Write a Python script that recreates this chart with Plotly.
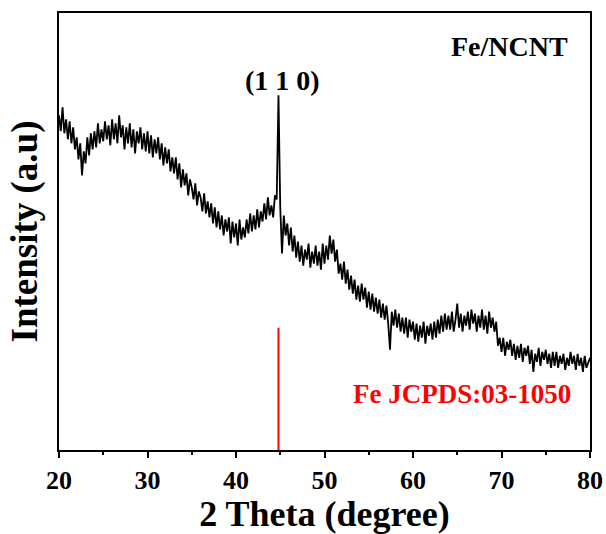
import numpy as np
import plotly.graph_objects as go

# XRD scan of Fe/NCNT: 2-theta from 20 to 80 degrees in 0.2 degree steps
two_theta = np.round(np.arange(20.0, 80.001, 0.2), 1)

# measured intensity (a.u.), five readings per degree
intensity = [
    334, 318, 342, 316, 330,  # 20
    310, 328, 306, 322, 300,  # 21
    312, 290, 306, 274, 298,  # 22
    286, 312, 294, 316, 300,  # 23
    318, 302, 326, 306, 320,  # 24
    308, 328, 310, 324, 304,  # 25
    330, 310, 326, 306, 334,  # 26
    312, 324, 300, 322, 306,  # 27
    326, 302, 320, 296, 318,  # 28
    306, 322, 300, 316, 298,  # 29
    318, 296, 314, 292, 310,  # 30
    296, 312, 290, 306, 284,  # 31
    302, 286, 300, 278, 292,  # 32
    276, 292, 270, 286, 262,  # 33
    280, 264, 276, 254, 270,  # 34
    262, 250, 266, 244, 258,  # 35
    252, 238, 256, 236, 248,  # 36
    232, 246, 226, 242, 222,  # 37
    238, 220, 234, 214, 230,  # 38
    218, 232, 206, 228, 212,  # 39
    226, 204, 230, 210, 222,  # 40
    212, 230, 216, 236, 218,  # 41
    234, 220, 240, 222, 238,  # 42
    228, 246, 230, 252, 234,  # 43
    244, 232, 254, 250, 354,  # 44
    242, 196, 234, 214, 226,  # 45
    204, 222, 198, 214, 192,  # 46
    208, 188, 204, 184, 200,  # 47
    190, 206, 182, 198, 186,  # 48
    204, 184, 198, 180, 206,  # 49
    186, 204, 190, 214, 196,  # 50
    210, 188, 200, 176, 186,  # 51
    170, 188, 166, 180, 160,  # 52
    174, 156, 170, 150, 164,  # 53
    148, 166, 150, 162, 142,  # 54
    158, 140, 156, 138, 152,  # 55
    136, 150, 132, 146, 130,  # 56
    144, 126, 100, 138, 124,  # 57
    140, 122, 136, 118, 132,  # 58
    116, 132, 112, 130, 118,  # 59
    128, 110, 126, 108, 124,  # 60
    112, 128, 106, 124, 114,  # 61
    126, 110, 128, 112, 130,  # 62
    116, 134, 118, 136, 120,  # 63
    134, 120, 138, 118, 130,  # 64
    146, 122, 136, 118, 134,  # 65
    124, 138, 120, 140, 126,  # 66
    136, 118, 134, 122, 140,  # 67
    120, 134, 116, 138, 122,  # 68
    132, 118, 128, 104, 112,  # 69
    98, 112, 94, 108, 100,    # 70
    110, 94, 106, 90, 104,    # 71
    92, 106, 88, 102, 94,     # 72
    104, 86, 100, 78, 96,     # 73
    88, 102, 84, 98, 90,      # 74
    100, 86, 96, 82, 98,      # 75
    84, 98, 82, 94, 86,       # 76
    96, 80, 92, 84, 98,       # 77
    86, 94, 80, 96, 84,       # 78
    92, 78, 94, 82, 88,       # 79
    92,                       # 80
]

# standard reference line for bcc Fe (110)
ref_position = [44.8, 44.8]
ref_height = [0, 122]

x_ticks = [20, 30, 40, 50, 60, 70, 80]
x_minor = [25, 35, 45, 55, 65, 75]

SERIF = "Liberation Serif"

fig = go.Figure()
fig.add_trace(go.Scatter(
    x=two_theta, y=intensity, mode="lines",
    line=dict(color="black", width=1.8), showlegend=False,
))
fig.add_trace(go.Scatter(
    x=ref_position, y=ref_height, mode="lines",
    line=dict(color="#ff0000", width=2), showlegend=False,
))

fig.add_annotation(x=0.849, y=0.924, xref="paper", yref="paper", text="<b>Fe/NCNT</b>",
                   showarrow=False, xanchor="center", yanchor="middle",
                   font=dict(family=SERIF, size=28, color="black"))
fig.add_annotation(x=45.3, y=369, text="<b>(1 1 0)</b>", showarrow=False,
                   xanchor="center", yanchor="middle",
                   font=dict(family=SERIF, size=28, color="black"))
fig.add_annotation(x=0.759, y=0.128, xref="paper", yref="paper",
                   text="<b>Fe JCPDS:03-1050</b>", showarrow=False,
                   xanchor="center", yanchor="middle",
                   font=dict(family=SERIF, size=27, color="#ff0000"))

fig.update_layout(
    width=606, height=534,
    margin=dict(l=59, r=16, t=13, b=84),
    paper_bgcolor="white", plot_bgcolor="white",
    font=dict(family=SERIF, color="black"),
)
fig.update_xaxes(
    range=[20, 80], tickvals=x_ticks, ticktext=[f"<b>{v}</b>" for v in x_ticks],
    ticks="outside", ticklen=6, tickwidth=2, tickcolor="black",
    minor=dict(tickvals=x_minor, ticks="outside", ticklen=3,
               tickwidth=2, tickcolor="black"),
    showline=True, linewidth=2, linecolor="black", mirror=True,
    showgrid=False, zeroline=False, automargin=False,
    tickfont=dict(family=SERIF, size=26, color="black"),
    title=dict(text="<b>2 Theta (degree)</b>", standoff=4,
               font=dict(family=SERIF, size=36, color="black")),
)
fig.update_yaxes(
    range=[0, 436], showticklabels=False, ticks="",
    showline=True, linewidth=2, linecolor="black", mirror=True,
    showgrid=False, zeroline=False, automargin=False,
    title=dict(text="<b>Intensity (a.u)</b>", standoff=8,
               font=dict(family=SERIF, size=37, color="black")),
)

fig.write_html("out.html")
